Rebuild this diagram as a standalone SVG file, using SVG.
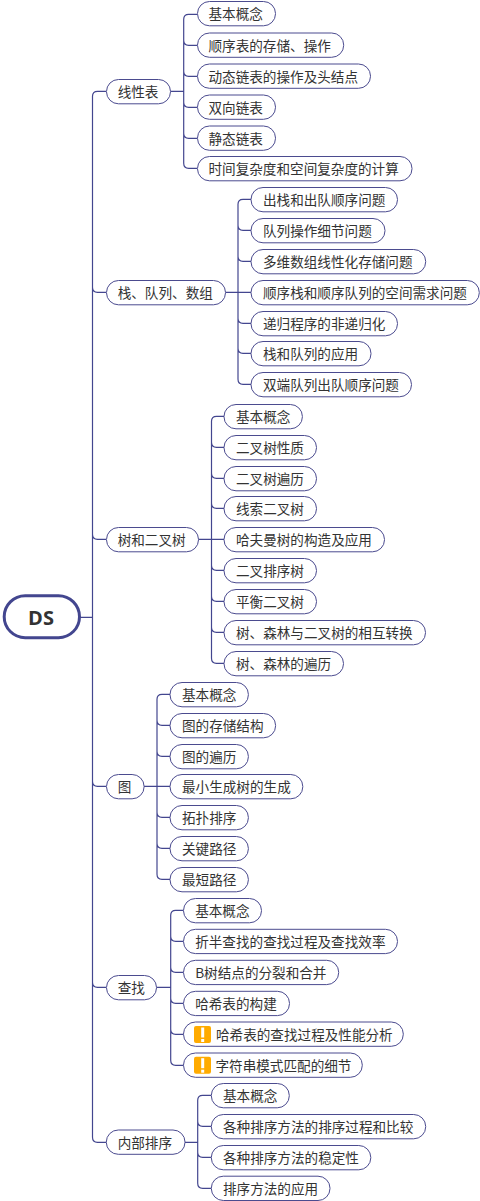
<svg xmlns="http://www.w3.org/2000/svg" width="480" height="1201" viewBox="0 0 480 1201">
<style>
text{font-family:"Noto Sans CJK SC","Noto Sans",sans-serif;font-size:13.6px;fill:#333;dominant-baseline:central}
.n rect{fill:#fff;stroke:#4b4b8f;stroke-width:1;height:24.3px;rx:12px;ry:12px}
.n rect.w{fill:#ffab00;stroke:none;width:17px;height:17px;rx:2px;ry:2px}
.n rect.m{fill:#fff;stroke:none;width:3px;height:10px;rx:0;ry:0}
.n rect.d{fill:#fff;stroke:none;width:3px;height:3px;rx:0;ry:0}
.c{fill:none;stroke:#43468f;stroke-width:1.2}
.root{font-family:"Open Sans","Noto Sans",sans-serif;font-size:20px;font-weight:700;text-anchor:middle}
</style>
<rect width="480" height="1201" fill="#fff"/>
<g id="connectors" transform="translate(0 .3)">
<path class="c" d="M80 617H92.500M92.500 96V1137M92.500 96Q92.500 91 97.500 91H106M92.500 287Q92.500 292 97.500 292H106M92.500 534Q92.500 539 97.500 539H106M92.500 781Q92.500 786 97.500 786H106M92.500 982Q92.500 987 97.500 987H106M92.500 1137Q92.500 1142 97.500 1142H106"/>
<path class="c" d="M170.500 91H183.700M183.700 19V163M183.700 19Q183.700 14 188.700 14H197M183.700 40Q183.700 45 188.700 45H197M183.700 71Q183.700 76 188.700 76H197M183.700 102Q183.700 107 188.700 107H197M183.700 133Q183.700 138 188.700 138H197M183.700 163Q183.700 168 188.700 168H197"/>
<path class="c" d="M225.500 292H251M238 204V379M238 204Q238 199 243 199H251M238 225Q238 230 243 230H251M238 256Q238 261 243 261H251M238 318Q238 323 243 323H251M238 348Q238 353 243 353H251M238 379Q238 384 243 384H251"/>
<path class="c" d="M198.500 539H224M211.500 421V658M211.500 421Q211.500 416 216.500 416H224M211.500 442Q211.500 447 216.500 447H224M211.500 473Q211.500 478 216.500 478H224M211.500 503Q211.500 508 216.500 508H224M211.500 565Q211.500 570 216.500 570H224M211.500 596Q211.500 601 216.500 601H224M211.500 627Q211.500 632 216.500 632H224M211.500 658Q211.500 663 216.500 663H224"/>
<path class="c" d="M144 786H170M157 699V874M157 699Q157 694 162 694H170M157 720Q157 725 162 725H170M157 751Q157 756 162 756H170M157 812Q157 817 162 817H170M157 843Q157 848 162 848H170M157 874Q157 879 162 879H170"/>
<path class="c" d="M156.500 987H170.700M170.700 915V1060M170.700 915Q170.700 910 175.700 910H183.500M170.700 936Q170.700 941 175.700 941H183.500M170.700 967Q170.700 972 175.700 972H183.500M170.700 998Q170.700 1003 175.700 1003H183.500M170.700 1029Q170.700 1034 175.700 1034H183.500M170.700 1060Q170.700 1065 175.700 1065H183.500"/>
<path class="c" d="M185 1142H197.700M197.700 1100V1183M197.700 1100Q197.700 1095 202.700 1095H211.300M197.700 1121Q197.700 1126 202.700 1126H211.300M197.700 1152Q197.700 1157 202.700 1157H211.300M197.700 1183Q197.700 1188 202.700 1188H211.300"/>
</g>
<g id="root"><rect x="4.200" y="595.700" width="75.300" height="42" rx="21" fill="#fff" stroke="#43468f" stroke-width="3"/><text class="root" x="41" y="617">DS</text></g>
<g id="n1" class="n"><rect x="106.500" y="79.500" width="64"/><text x="117.700" y="91.200">线性表</text></g>
<g id="n2" class="n"><rect x="106.500" y="280.500" width="119"/><text x="117.700" y="292.200">栈、队列、数组</text></g>
<g id="n3" class="n"><rect x="106.500" y="527.500" width="92"/><text x="117.700" y="539.200">树和二叉树</text></g>
<g id="n4" class="n"><rect x="106.500" y="774.500" width="37.600"/><text x="117.700" y="786.200">图</text></g>
<g id="n5" class="n"><rect x="106.500" y="975.500" width="50"/><text x="117.700" y="987.200">查找</text></g>
<g id="n6" class="n"><rect x="106.300" y="1130" width="78.700"/><text x="117.700" y="1141.700">内部排序</text></g>
<g id="a1" class="n"><rect x="197.500" y="1.500" width="78"/><text x="208.500" y="13.300">基本概念</text></g>
<g id="a2" class="n"><rect x="197.500" y="33" width="146.200"/><text x="208.500" y="45">顺序表的存储、操作</text></g>
<g id="a3" class="n"><rect x="197.500" y="64" width="173"/><text x="208.500" y="76">动态链表的操作及头结点</text></g>
<g id="a4" class="n"><rect x="197.500" y="95" width="78"/><text x="208.500" y="107">双向链表</text></g>
<g id="a5" class="n"><rect x="197.500" y="126" width="78"/><text x="208.500" y="138">静态链表</text></g>
<g id="a6" class="n"><rect x="197.500" y="156.500" width="214.500"/><text x="208.500" y="168.200">时间复杂度和空间复杂度的计算</text></g>
<g id="b1" class="n"><rect x="251" y="187.500" width="146.500"/><text x="263" y="199.200">出栈和出队顺序问题</text></g>
<g id="b2" class="n"><rect x="251" y="218.500" width="134"/><text x="263" y="230.200">队列操作细节问题</text></g>
<g id="b3" class="n"><rect x="251" y="249.500" width="174.700"/><text x="263" y="261.200">多维数组线性化存储问题</text></g>
<g id="b4" class="n"><rect x="251" y="280.500" width="228.300"/><text x="263" y="292.200">顺序栈和顺序队列的空间需求问题</text></g>
<g id="b5" class="n"><rect x="251" y="311.500" width="146.500"/><text x="263" y="323.200">递归程序的非递归化</text></g>
<g id="b6" class="n"><rect x="251" y="341.500" width="120"/><text x="263" y="353.200">栈和队列的应用</text></g>
<g id="b7" class="n"><rect x="251" y="372.500" width="160.500"/><text x="263" y="384.200">双端队列出队顺序问题</text></g>
<g id="c1" class="n"><rect x="224" y="404.500" width="78.400"/><text x="236" y="416.200">基本概念</text></g>
<g id="c2" class="n"><rect x="224" y="435.500" width="92.500"/><text x="236" y="447.200">二叉树性质</text></g>
<g id="c3" class="n"><rect x="224" y="466.500" width="92.500"/><text x="236" y="478.200">二叉树遍历</text></g>
<g id="c4" class="n"><rect x="224" y="496.500" width="92.500"/><text x="236" y="508.200">线索二叉树</text></g>
<g id="c5" class="n"><rect x="224" y="527.500" width="160.500"/><text x="236" y="539.200">哈夫曼树的构造及应用</text></g>
<g id="c6" class="n"><rect x="224" y="558.500" width="92.500"/><text x="236" y="570.200">二叉排序树</text></g>
<g id="c7" class="n"><rect x="224" y="589.500" width="92.500"/><text x="236" y="601.200">平衡二叉树</text></g>
<g id="c8" class="n"><rect x="224" y="620.500" width="201.500"/><text x="236" y="632.200">树、森林与二叉树的相互转换</text></g>
<g id="c9" class="n"><rect x="224" y="651.500" width="119.500"/><text x="236" y="663.200">树、森林的遍历</text></g>
<g id="d1" class="n"><rect x="170" y="682.500" width="78.400"/><text x="182" y="694.200">基本概念</text></g>
<g id="d2" class="n"><rect x="170" y="713.500" width="105.600"/><text x="182" y="725.200">图的存储结构</text></g>
<g id="d3" class="n"><rect x="170" y="744.500" width="78.400"/><text x="182" y="756.200">图的遍历</text></g>
<g id="d4" class="n"><rect x="170" y="774.500" width="132.800"/><text x="182" y="786.200">最小生成树的生成</text></g>
<g id="d5" class="n"><rect x="170" y="805.500" width="78.400"/><text x="182" y="817.200">拓扑排序</text></g>
<g id="d6" class="n"><rect x="170" y="836.500" width="78.400"/><text x="182" y="848.200">关键路径</text></g>
<g id="d7" class="n"><rect x="170" y="867.500" width="78.400"/><text x="182" y="879.200">最短路径</text></g>
<g id="e1" class="n"><rect x="183.500" y="898.500" width="78"/><text x="195.200" y="910.200">基本概念</text></g>
<g id="e2" class="n"><rect x="183.500" y="929.300" width="214"/><text x="195.200" y="941">折半查找的查找过程及查找效率</text></g>
<g id="e3" class="n"><rect x="183.500" y="960.300" width="155.200"/><text x="195.200" y="972">B树结点的分裂和合并</text></g>
<g id="e4" class="n"><rect x="183.500" y="991.300" width="106"/><text x="195.200" y="1003">哈希表的构建</text></g>
<g id="e5" class="n"><rect x="183.500" y="1022" width="219.800"/><rect class="w" x="194" y="1026"/><rect class="m" x="201.200" y="1027.500"/><rect class="d" x="201.200" y="1039"/><text x="216" y="1034">哈希表的查找过程及性能分析</text></g>
<g id="e6" class="n"><rect x="183.500" y="1053" width="178.800"/><rect class="w" x="194" y="1056.700"/><rect class="m" x="201.200" y="1058.200"/><rect class="d" x="201.200" y="1069.700"/><text x="215.500" y="1065">字符串模式匹配的细节</text></g>
<g id="f1" class="n"><rect x="211.300" y="1083.500" width="78"/><text x="223" y="1095.200">基本概念</text></g>
<g id="f2" class="n"><rect x="211.300" y="1114.500" width="214.400"/><text x="223" y="1126.200">各种排序方法的排序过程和比较</text></g>
<g id="f3" class="n"><rect x="211.300" y="1145.500" width="159.500"/><text x="223" y="1157.200">各种排序方法的稳定性</text></g>
<g id="f4" class="n"><rect x="211.300" y="1176.200" width="118.700"/><text x="223" y="1188">排序方法的应用</text></g>
</svg>
